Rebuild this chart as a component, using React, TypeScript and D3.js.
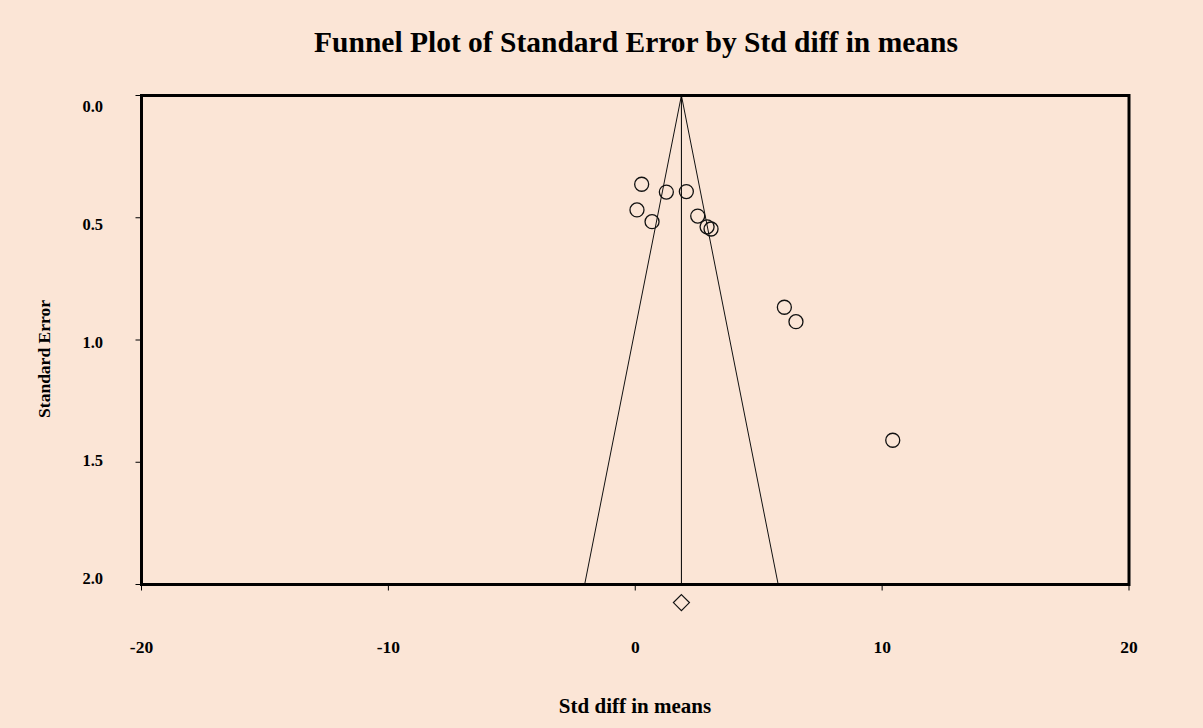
import React from "react";
import * as d3 from "d3";

// Study effects (std diff in means) and their standard errors
const studyEffects = [0.26, 1.26, 2.07, 0.07, 0.68, 2.53, 2.91, 3.07, 6.04, 6.51, 10.43];
const studyErrors = [0.363, 0.395, 0.393, 0.468, 0.516, 0.493, 0.537, 0.546, 0.866, 0.925, 1.41];

// Pooled estimate and where its diamond sits under the axis
const pooledEffect = 1.87;
const pooledDiamondSE = 2.074;

const xTicks = [-20, -10, 0, 10, 20];
const yTicks = [0, 0.5, 1, 1.5, 2];

const W = 1203;
const H = 728;
const BG = "#FBE5D6";
const FONT = "'Liberation Serif', 'Times New Roman', serif";

export default function App() {
  const x = d3.scaleLinear().domain([-20, 20]).range([141.5, 1129]);
  const y = d3.scaleLinear().domain([0, 2]).range([95.5, 584.5]);
  // tick labels are spread evenly inside the frame
  const yLabel = d3.scaleLinear().domain([0, 2]).range([106.5, 578]);

  const seMax = 2;
  const funnel = d3.line<[number, number]>()
    .x((d) => x(d[0]))
    .y((d) => y(d[1]));
  const funnelPts: [number, number][] = [
    [pooledEffect - 1.96 * seMax, seMax],
    [pooledEffect, 0],
    [pooledEffect + 1.96 * seMax, seMax],
  ];

  const dx = x(pooledEffect);
  const dy = y(pooledDiamondSE);
  const dr = 8;

  return (
    <svg
      width={W}
      height={H}
      style={{ position: "fixed", left: 0, top: 0, display: "block" }}
      fontFamily={FONT}
    >
      <rect x={0} y={0} width={W} height={H} fill={BG} />

      <text x={636} y={52} textAnchor="middle" fontSize={29.5} fontWeight="bold" fill="#000">
        Funnel Plot of Standard Error by Std diff in means
      </text>

      {/* funnel and pooled-effect line */}
      <path d={funnel(funnelPts) ?? ""} fill="none" stroke="#111" strokeWidth={1} />
      <line x1={dx} x2={dx} y1={y(0)} y2={y(2)} stroke="#000" strokeWidth={1} />

      {/* studies */}
      {studyEffects.map((e, i) => (
        <circle
          key={i}
          cx={x(e)}
          cy={y(studyErrors[i])}
          r={7}
          fill="none"
          stroke="#111"
          strokeWidth={1.3}
        />
      ))}

      {/* pooled diamond */}
      <path
        d={`M${dx},${dy - dr}L${dx + dr},${dy}L${dx},${dy + dr}L${dx - dr},${dy}Z`}
        fill="none"
        stroke="#111"
        strokeWidth={1.2}
      />

      {/* frame */}
      <rect
        x={x(-20)}
        y={y(0)}
        width={x(20) - x(-20)}
        height={y(2) - y(0)}
        fill="none"
        stroke="#000"
        strokeWidth={3}
      />

      {/* y ticks */}
      {yTicks.map((t) => (
        <g key={`y${t}`}>
          <line x1={x(-20) - 6} x2={x(-20)} y1={y(t)} y2={y(t)} stroke="#000" strokeWidth={1} />
          <text
            x={103}
            y={yLabel(t)}
            dy="0.35em"
            textAnchor="end"
            fontSize={16.5}
            fontWeight="bold"
          >
            {d3.format(".1f")(t)}
          </text>
        </g>
      ))}

      {/* x ticks */}
      {xTicks.map((t) => (
        <g key={`x${t}`}>
          <line x1={x(t)} x2={x(t)} y1={y(2)} y2={y(2) + 6} stroke="#000" strokeWidth={1} />
          <text x={x(t)} y={653} textAnchor="middle" fontSize={17.5} fontWeight="bold">
            {t}
          </text>
        </g>
      ))}

      <text x={635} y={713} textAnchor="middle" fontSize={21} fontWeight="bold">
        Std diff in means
      </text>
      <text
        transform="translate(50,359) rotate(-90)"
        textAnchor="middle"
        fontSize={17.5}
        fontWeight="bold"
      >
        Standard Error
      </text>
    </svg>
  );
}
